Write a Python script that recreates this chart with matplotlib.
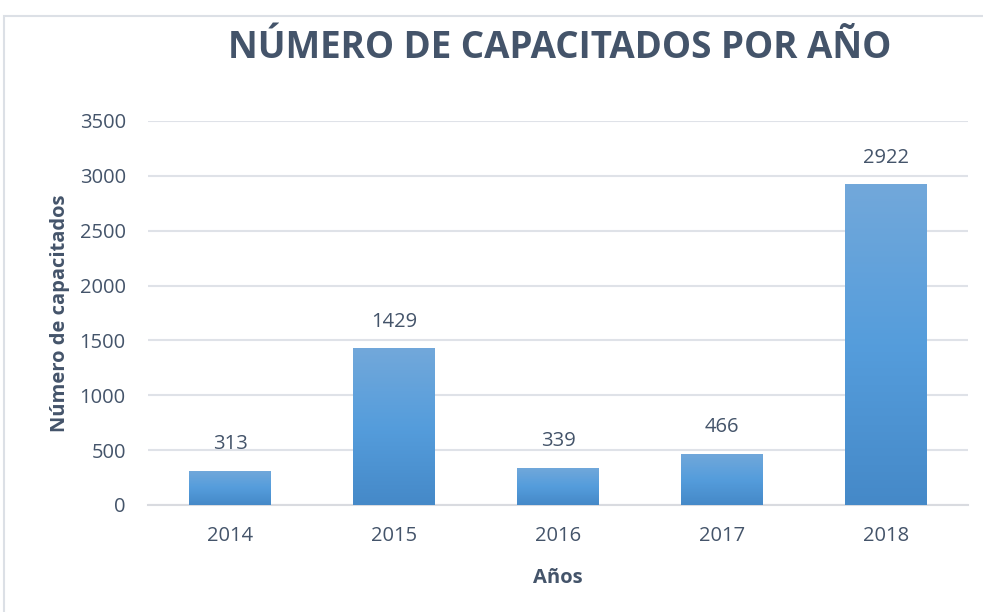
import matplotlib
matplotlib.use("Agg")
import matplotlib.pyplot as plt
import numpy as np
from matplotlib.colors import LinearSegmentedColormap
from matplotlib.patches import Rectangle

years = ["2014", "2015", "2016", "2017", "2018"]
values = [313, 1429, 339, 466, 2922]
yticks = [0, 500, 1000, 1500, 2000, 2500, 3000, 3500]
title = "NÚMERO DE CAPACITADOS POR AÑO"
xlabel = "Años"
ylabel = "Número de capacitados"

txt = "#44546A"
plt.rcParams['font.family'] = ['Open Sans', 'DejaVu Sans']

fig = plt.figure(figsize=(9.83, 6.12), dpi=100)
ax = fig.add_axes([148/983, 1-505/612, 820/983, 384/612])

x = np.arange(len(years))
bars = ax.bar(x, values, width=0.5, color="#559DDC", zorder=3)

cmap = LinearSegmentedColormap.from_list("g", ["#4589C8", "#559DDC", "#72A8DA"])
grad = np.linspace(0, 1, 256).reshape(-1, 1)
for b in bars:
    x0, y0, w, h = b.get_x(), b.get_y(), b.get_width(), b.get_height()
    im = ax.imshow(grad, extent=[x0, x0+w, y0, y0+h], origin="lower", cmap=cmap,
                   aspect="auto", zorder=4)
    im.set_clip_path(b)

for xi, v in zip(x, values):
    ax.annotate(str(v), (xi, v), xytext=(0, 12), textcoords="offset points",
                ha="center", va="bottom", fontsize=14.5, color=txt)

ax.set_xlim(-0.5, len(years)-0.5)
ax.set_ylim(0, 3500)
ax.set_yticks(yticks)
ax.set_yticklabels([str(t) for t in yticks])
ax.set_xticks(x)
ax.set_xticklabels(years)
ax.tick_params(axis="both", length=0, labelsize=14.5, labelcolor=txt)
ax.tick_params(axis="y", pad=16)
ax.tick_params(axis="x", pad=15)
ax.yaxis.grid(True, color="#DFE2E8", linewidth=1.5, zorder=0)
ax.set_axisbelow(True)
for s in ["top", "right", "left"]:
    ax.spines[s].set_visible(False)
ax.spines["bottom"].set_color("#D9DBE0")
ax.spines["bottom"].set_linewidth(1.5)

ax.set_xlabel(xlabel, fontsize=14.5, fontweight="bold", color=txt, labelpad=16)
ax.set_ylabel(ylabel, fontsize=14.5, fontweight="bold", color=txt, labelpad=7)

fig.text(560/983, 1-48/612, title, ha="center", va="center", fontsize=26.5,
         fontweight="bold", color=txt)

fig.patches.append(Rectangle((4/983, -0.1), 1.2, 1-16/612+0.1, transform=fig.transFigure,
                             fill=False, edgecolor="#DCE0E6", linewidth=1.5))

fig.savefig("out.png", dpi=100)
